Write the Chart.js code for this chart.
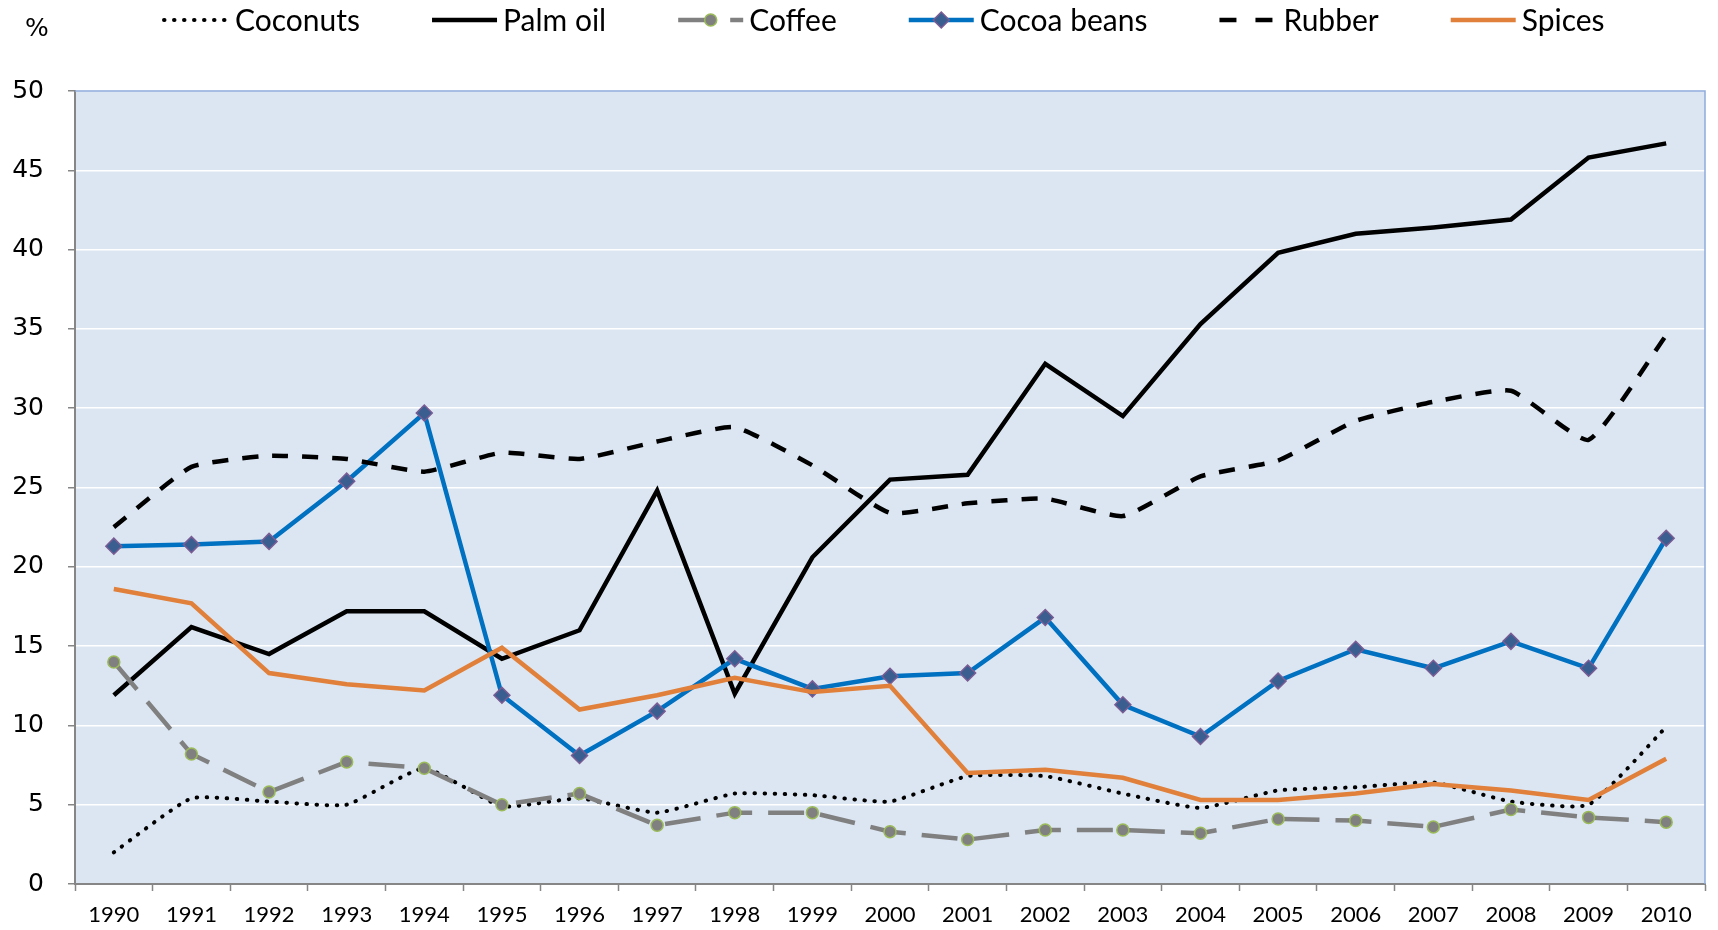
<!DOCTYPE html>
<html>
<head>
<meta charset="utf-8">
<script src="https://cdn.jsdelivr.net/npm/chart.js@4/dist/chart.umd.min.js"></script>
<style>
  html, body { margin: 0; padding: 0; background: #fff; }
  #wrap { width: 1718px; height: 930px; }
</style>
</head>
<body>
<div id="wrap"><canvas id="chart" width="1718" height="930"></canvas></div>
<script>
// Share of export values, %, 1990-2010
const years = ['1990', '1991', '1992', '1993', '1994', '1995', '1996', '1997', '1998', '1999', '2000',
               '2001', '2002', '2003', '2004', '2005', '2006', '2007', '2008', '2009', '2010'];

const coconuts = [2.0, 5.4, 5.2, 5.0, 7.3, 4.9, 5.4, 4.5, 5.7, 5.6, 5.2, 6.8, 6.8, 5.7, 4.8, 5.9, 6.1, 6.4, 5.2, 5.0, 9.9];
const palmOil  = [11.9, 16.2, 14.5, 17.2, 17.2, 14.2, 16.0, 24.8, 12.0, 20.6, 25.5, 25.8, 32.8, 29.5, 35.3, 39.8, 41.0, 41.4, 41.9, 45.8, 46.7];
const coffee   = [14.0, 8.2, 5.8, 7.7, 7.3, 5.0, 5.7, 3.7, 4.5, 4.5, 3.3, 2.8, 3.4, 3.4, 3.2, 4.1, 4.0, 3.6, 4.7, 4.2, 3.9];
const cocoa    = [21.3, 21.4, 21.6, 25.4, 29.7, 11.9, 8.1, 10.9, 14.2, 12.3, 13.1, 13.3, 16.8, 11.3, 9.3, 12.8, 14.8, 13.6, 15.3, 13.6, 21.8];
const rubber   = [22.5, 26.3, 27.0, 26.8, 26.0, 27.2, 26.8, 27.9, 28.8, 26.4, 23.4, 24.0, 24.3, 23.2, 25.7, 26.7, 29.2, 30.4, 31.1, 28.0, 34.6];
const spices   = [18.6, 17.7, 13.3, 12.6, 12.2, 14.9, 11.0, 11.9, 13.0, 12.1, 12.5, 7.0, 7.2, 6.7, 5.3, 5.3, 5.7, 6.3, 5.9, 5.3, 7.9];

const yMin = 0;
const yMax = 50;
const yStep = 5;
const unitLabel = '%';

// Plot background, light borders
const plotBackground = {
  id: 'plotBackground',
  beforeDraw(chart) {
    const { ctx, chartArea: a } = chart;
    ctx.save();
    ctx.fillStyle = '#DCE6F2';
    ctx.fillRect(a.left, a.top, a.right - a.left, a.bottom - a.top);
    ctx.restore();
  },
  afterDraw(chart) {
    const { ctx, chartArea: a } = chart;
    ctx.save();
    ctx.strokeStyle = '#8EAADB';
    ctx.lineWidth = 1.5;
    ctx.beginPath();
    ctx.moveTo(a.left, a.top);
    ctx.lineTo(a.right, a.top);
    ctx.lineTo(a.right, a.bottom);
    ctx.stroke();
    ctx.restore();
  }
};

// Legend across the top, drawn from the dataset styles
function drawMarker(ctx, ds, x, y) {
  const r = ds.pointRadius;
  ctx.fillStyle = ds.pointBackgroundColor;
  ctx.strokeStyle = ds.pointBorderColor;
  ctx.lineWidth = ds.pointBorderWidth;
  ctx.setLineDash([]);
  ctx.beginPath();
  if (ds.pointStyle === 'rectRot') {
    ctx.moveTo(x, y - r);
    ctx.lineTo(x + r, y);
    ctx.lineTo(x, y + r);
    ctx.lineTo(x - r, y);
    ctx.closePath();
  } else {
    ctx.arc(x, y, r, 0, Math.PI * 2);
  }
  ctx.fill();
  ctx.stroke();
}

const topLegend = {
  id: 'topLegend',
  afterDraw(chart) {
    const ctx = chart.ctx;
    ctx.save();
    ctx.font = '30px Lato';
    ctx.textBaseline = 'middle';
    ctx.textAlign = 'left';
    const y = 20;
    let x = 164;
    chart.data.datasets.forEach(ds => {
      const w = ds.legendWidth || 65;
      ctx.strokeStyle = ds.borderColor;
      ctx.lineWidth = ds.borderWidth;
      ctx.lineCap = ds.borderCapStyle || 'butt';
      ctx.setLineDash(ds.legendDash || ds.borderDash || []);
      ctx.beginPath();
      ctx.moveTo(x, y);
      ctx.lineTo(x + w, y);
      ctx.stroke();
      if (ds.pointRadius > 0) drawMarker(ctx, ds, x + w / 2, y);
      ctx.fillStyle = '#000';
      ctx.fillText(ds.label, x + w + 6, y + 1);
      x += w + 6 + ctx.measureText(ds.label).width + 72;
    });
    // unit label
    ctx.font = '25px "DejaVu Sans"';
    ctx.fillText(unitLabel, 25, 29);
    ctx.restore();
  }
};

const ctx = document.getElementById('chart').getContext('2d');

new Chart(ctx, {
  type: 'line',
  data: {
    labels: years,
    datasets: [
      {
        label: 'Coconuts',
        data: coconuts,
        borderColor: '#000',
        borderWidth: 4,
        borderDash: [0.5, 9.5],
        borderCapStyle: 'round',
        pointRadius: 0,
        tension: 0.15,
        order: 5
      },
      {
        label: 'Palm oil',
        data: palmOil,
        borderColor: '#000',
        borderWidth: 4.5,
        pointRadius: 0,
        tension: 0,
        order: 4
      },
      {
        label: 'Coffee',
        data: coffee,
        borderColor: '#808080',
        borderWidth: 4.5,
        borderDash: [36, 16],
        pointStyle: 'circle',
        pointRadius: 6,
        pointBackgroundColor: '#808080',
        pointBorderColor: '#9BBB59',
        pointBorderWidth: 1.5,
        tension: 0,
        order: 3
      },
      {
        label: 'Cocoa beans',
        data: cocoa,
        borderColor: '#0070C0',
        borderWidth: 4.5,
        pointStyle: 'rectRot',
        pointRadius: 8,
        pointBackgroundColor: '#3B5E91',
        pointBorderColor: '#7A5C94',
        pointBorderWidth: 1.5,
        tension: 0,
        order: 2
      },
      {
        label: 'Rubber',
        data: rubber,
        borderColor: '#000',
        borderWidth: 4.5,
        borderDash: [16, 14],
        legendDash: [17, 19],
        legendWidth: 58,
        pointRadius: 0,
        tension: 0.15,
        order: 1
      },
      {
        label: 'Spices',
        data: spices,
        borderColor: '#E0803A',
        borderWidth: 4.5,
        pointRadius: 0,
        tension: 0,
        order: 0
      }
    ]
  },
  options: {
    responsive: false,
    animation: false,
    layout: { padding: { top: 91, right: 13, left: 0, bottom: 0 } },
    plugins: {
      legend: { display: false },
      tooltip: { enabled: false }
    },
    scales: {
      x: {
        offset: true,
        grid: {
          offset: true,
          drawOnChartArea: false,
          drawTicks: true,
          tickLength: 7,
          tickColor: '#868686',
          tickWidth: 1.5
        },
        border: { color: '#868686', width: 2 },
        ticks: {
          color: '#000',
          font: { family: 'Lato', size: 22 },
          padding: 11,
          maxRotation: 0,
          autoSkip: false
        },
        afterFit(scale) {
          scale.height = 46;
          scale.paddingLeft = 0;
          scale.paddingRight = 0;
        }
      },
      y: {
        min: yMin,
        max: yMax,
        grid: {
          color: '#FFFFFF',
          lineWidth: 1.5,
          drawTicks: true,
          tickLength: 7,
          tickColor: '#868686',
          tickWidth: 1.5
        },
        border: { color: '#868686', width: 2 },
        ticks: {
          stepSize: yStep,
          color: '#000',
          font: { family: 'DejaVu Sans', size: 25 },
          padding: 24
        },
        afterFit(scale) {
          scale.width = 75;
          scale.paddingTop = 0;
          scale.paddingBottom = 0;
        }
      }
    }
  },
  plugins: [plotBackground, topLegend]
});
</script>
</body>
</html>
